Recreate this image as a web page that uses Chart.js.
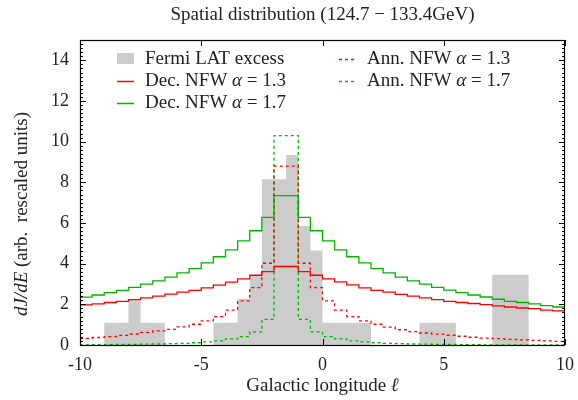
<!DOCTYPE html>
<html>
<head>
<meta charset="utf-8">
<title>Spatial distribution</title>
<script src="https://cdn.jsdelivr.net/npm/chart.js@4.4.1/dist/chart.umd.min.js"></script>
<style>
  html, body { margin: 0; padding: 0; background: #fff; }
  canvas { display: block; }
</style>
</head>
<body>
<canvas id="spatialChart" width="578" height="400"></canvas>
<script>
// Model bins: 0.5 deg wide, except the central bin -2..-1
const binEdges = [-10, -9.5, -9, -8.5, -8, -7.5, -7, -6.5, -6, -5.5, -5, -4.5, -4, -3.5, -3, -2.5,
    -2, -1, -0.5, 0, 0.5, 1, 1.5, 2, 2.5, 3, 3.5, 4, 4.5, 5, 5.5, 6, 6.5, 7, 7.5, 8, 8.5, 9, 9.5, 10];

const decNfw13 = [1.97, 2.02, 2.09, 2.15, 2.23, 2.32, 2.40, 2.50, 2.60, 2.69, 2.81, 2.94, 3.09, 3.25, 3.43, 3.61,
    3.86,
    3.61, 3.43, 3.25, 3.10, 2.96, 2.81, 2.69, 2.60, 2.49, 2.40, 2.32, 2.23, 2.15, 2.09, 2.04, 1.99, 1.92, 1.87, 1.82, 1.79, 1.72, 1.68];

const decNfw17 = [2.35, 2.46, 2.58, 2.69, 2.83, 2.99, 3.15, 3.34, 3.55, 3.76, 4.04, 4.34, 4.68, 5.12, 5.62, 6.28,
    7.35,
    6.28, 5.62, 5.12, 4.68, 4.34, 4.04, 3.76, 3.55, 3.34, 3.15, 2.99, 2.83, 2.70, 2.58, 2.46, 2.36, 2.25, 2.15, 2.09, 2.02, 1.94, 1.87];

const annNfw13 = [0.33, 0.37, 0.41, 0.47, 0.54, 0.62, 0.69, 0.77, 0.89, 1.02, 1.19, 1.40, 1.72, 2.17, 2.82, 4.02,
    8.80,
    4.02, 2.82, 2.17, 1.72, 1.40, 1.19, 1.02, 0.88, 0.75, 0.66, 0.59, 0.53, 0.48, 0.43, 0.38, 0.34, 0.31, 0.28, 0.25, 0.23, 0.20, 0.18];

const annNfw17 = [0.01, 0.02, 0.02, 0.03, 0.03, 0.04, 0.05, 0.07, 0.08, 0.11, 0.15, 0.20, 0.30, 0.41, 0.65, 1.26,
    10.3,
    1.26, 0.65, 0.41, 0.30, 0.20, 0.15, 0.11, 0.08, 0.07, 0.05, 0.04, 0.03, 0.03, 0.02, 0.02, 0.01, 0.01, 0.01, 0.01, 0.01, 0.01, 0.01];

// Fermi LAT excess (irregular bins)
const excessEdges = [-10, -9, -8, -7.5, -6.5, -4.5, -3.5, -3, -2.5, -1.5, -1, -0.5, 0, 2, 4, 5.5, 7, 8.5, 10];
const excessValues = [0, 1.1, 2.2, 1.1, 0, 1.1, 2.27, 3.4, 8.15, 9.35, 5.85, 4.65, 1.1, 0, 1.1, 0, 3.45, 0];

const xTicks = [-10, -5, 0, 5, 10];
const yTicks = [0, 2, 4, 6, 8, 10, 12, 14];

const RED = '#ff0000';
const GREEN = '#00b400';
const GREY = '#cccccc';
const FONT = '"Liberation Serif", "DejaVu Serif", serif';

// turn bin edges + bin values into points for a stepped line
function toSteps(edges, values) {
    const pts = values.map((v, i) => ({ x: edges[i], y: v }));
    pts.push({ x: edges[edges.length - 1], y: values[values.length - 1] });
    return pts;
}

// draw text made of normal / italic pieces
function drawRich(ctx, parts, x, y, size, align) {
    const fontOf = it => (it ? 'italic ' : '') + size + 'px ' + FONT;
    let total = 0;
    parts.forEach(p => { ctx.font = fontOf(p[1]); total += ctx.measureText(p[0]).width; });
    let cx = align === 'center' ? x - total / 2 : x;
    ctx.textAlign = 'left';
    ctx.textBaseline = 'middle';
    parts.forEach(p => {
        ctx.font = fontOf(p[1]);
        ctx.fillText(p[0], cx, y);
        cx += ctx.measureText(p[0]).width;
    });
}

const legendItems = [
    { col: 0, row: 0, kind: 'box', color: GREY, text: [['Fermi LAT excess', false]] },
    { col: 0, row: 1, kind: 'solid', color: RED, text: [['Dec. NFW ', false], ['\u03b1', true], [' = 1.3', false]] },
    { col: 0, row: 2, kind: 'solid', color: GREEN, text: [['Dec. NFW ', false], ['\u03b1', true], [' = 1.7', false]] },
    { col: 1, row: 0, kind: 'dash', color: RED, text: [['Ann. NFW ', false], ['\u03b1', true], [' = 1.3', false]] },
    { col: 1, row: 1, kind: 'dash', color: GREEN, text: [['Ann. NFW ', false], ['\u03b1', true], [' = 1.7', false]] }
];

const framePlugin = {
    id: 'frame',
    afterDraw(chart) {
        const ctx = chart.ctx;
        const a = chart.chartArea;
        const xs = chart.scales.x, ys = chart.scales.y;
        ctx.save();
        ctx.strokeStyle = '#000';
        ctx.lineWidth = 1;
        ctx.beginPath();
        // y ticks, major every 2, minor every 0.2
        for (let i = 0; i <= 75; i++) {
            const v = i * 0.2;
            const py = Math.round(ys.getPixelForValue(v)) + 0.5;
            const len = (i % 10 === 0) ? 6 : 3;
            ctx.moveTo(a.left, py); ctx.lineTo(a.left + len, py);
            ctx.moveTo(a.right, py); ctx.lineTo(a.right - len, py);
        }
        xTicks.forEach(v => {
            const px = Math.round(xs.getPixelForValue(v)) + 0.5;
            ctx.moveTo(px, a.bottom); ctx.lineTo(px, a.bottom - 6);
            ctx.moveTo(px, a.top); ctx.lineTo(px, a.top + 6);
        });
        ctx.stroke();
        ctx.lineWidth = 1.2;
        ctx.strokeRect(a.left + 0.5, a.top + 0.5, a.right - a.left - 1, a.bottom - a.top);

        // legend
        const colX = [117, 339];
        const rowY = [59, 81, 103];
        legendItems.forEach(it => {
            const x0 = colX[it.col], y0 = rowY[it.row];
            if (it.kind === 'box') {
                ctx.fillStyle = it.color;
                ctx.fillRect(x0, y0 - 6, 17, 11);
            } else {
                ctx.save();
                ctx.strokeStyle = it.color;
                ctx.lineWidth = 1.5;
                ctx.setLineDash(it.kind === 'dash' ? [3, 3] : []);
                ctx.beginPath();
                ctx.moveTo(x0, y0 + 0.5);
                ctx.lineTo(x0 + 17, y0 + 0.5);
                ctx.stroke();
                ctx.restore();
            }
            ctx.fillStyle = '#222';
            drawRich(ctx, it.text, x0 + 28, y0, 19, 'left');
        });

        // titles
        drawRich(ctx, [['Spatial distribution (124.7 \u2212 133.4GeV)', false]], (a.left + a.right) / 2, 15, 19, 'center');
        drawRich(ctx, [['Galactic longitude ', false], ['\u2113', true]], (a.left + a.right) / 2, 386, 19, 'center');
        ctx.translate(22, 214);
        ctx.rotate(-Math.PI / 2);
        drawRich(ctx, [['dJ/dE', true], [' (arb.  rescaled units)', false]], 0, 0, 19, 'center');
        ctx.restore();
    }
};

function stepLine(label, values, color, dashed) {
    return {
        label: label,
        data: toSteps(binEdges, values),
        stepped: true,
        borderColor: color,
        borderWidth: 1.3,
        borderDash: dashed ? [3, 3] : [],
        pointRadius: 0,
        fill: false
    };
}

new Chart(document.getElementById('spatialChart'), {
    type: 'line',
    data: {
        datasets: [
            stepLine('Dec. NFW α = 1.3', decNfw13, RED, false),
            stepLine('Dec. NFW α = 1.7', decNfw17, GREEN, false),
            stepLine('Ann. NFW α = 1.3', annNfw13, RED, true),
            stepLine('Ann. NFW α = 1.7', annNfw17, GREEN, true),
            {
                label: 'Fermi LAT excess',
                data: toSteps(excessEdges, excessValues),
                stepped: true,
                borderWidth: 0,
                borderColor: 'rgba(0,0,0,0)',
                backgroundColor: GREY,
                pointRadius: 0,
                fill: 'origin'
            }
        ]
    },
    options: {
        responsive: false,
        devicePixelRatio: 1,
        animation: false,
        layout: { padding: { top: 40, right: 13, left: 0, bottom: 0 } },
        plugins: {
            legend: { display: false },
            tooltip: { enabled: false },
            title: { display: false }
        },
        scales: {
            x: {
                type: 'linear',
                min: -10,
                max: 10,
                grid: { display: false, drawTicks: false },
                border: { display: false },
                afterBuildTicks: s => { s.ticks = xTicks.map(v => ({ value: v })); },
                afterFit: s => {
                    s.height = 55;
                    // labels may overhang, the layout padding already leaves room
                    s.paddingLeft = 0;
                    s.paddingRight = 0;
                },
                ticks: {
                    padding: 9,
                    color: '#222',
                    font: { family: FONT, size: 18 },
                    maxRotation: 0
                }
            },
            y: {
                min: 0,
                max: 15,
                grid: { display: false, drawTicks: false },
                border: { display: false },
                afterBuildTicks: s => { s.ticks = yTicks.map(v => ({ value: v })); },
                afterFit: s => { s.width = 80; },
                ticks: {
                    padding: 11,
                    color: '#222',
                    font: { family: FONT, size: 18 }
                }
            }
        }
    },
    plugins: [framePlugin]
});
</script>
</body>
</html>
